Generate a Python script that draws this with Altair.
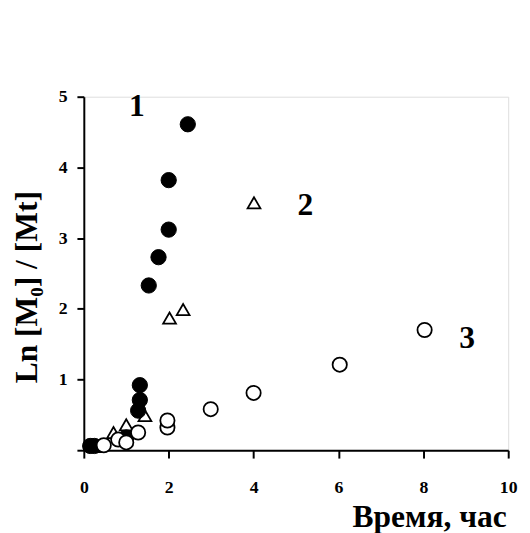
import altair as alt
import pandas as pd

# Series 1 (filled circles)
s1_x = [0.15, 0.25, 1.0, 1.28, 1.32, 1.32, 1.53, 1.76, 2.0, 2.0, 2.45]
s1_y = [0.06, 0.06, 0.18, 0.56, 0.71, 0.92, 2.33, 2.73, 3.12, 3.82, 4.61]
# Series 2 (open triangles)
s2_x = [0.3, 0.7, 1.0, 1.44, 2.02, 2.34, 4.01]
s2_y = [0.05, 0.25, 0.36, 0.49, 1.87, 1.99, 3.50]
# Series 3 (open circles)
s3_x = [0.47, 0.81, 1.0, 1.28, 1.97, 1.97, 2.99, 4.0, 6.03, 8.03]
s3_y = [0.07, 0.15, 0.11, 0.25, 0.32, 0.42, 0.58, 0.81, 1.21, 1.70]
# Curve labels
lab_text = ["1", "2", "3"]
lab_x = [1.25, 5.22, 9.03]
lab_y = [4.86, 3.47, 1.59]

x_ticks = [0, 2, 4, 6, 8, 10]
y_ticks = [0, 1, 2, 3, 4, 5]

FONT = "Liberation Serif"

d1 = pd.DataFrame({"x": s1_x, "y": s1_y})
d2 = pd.DataFrame({"x": s2_x, "y": s2_y})
d3 = pd.DataFrame({"x": s3_x, "y": s3_y})
dl = pd.DataFrame({"t": lab_text, "x": lab_x, "y": lab_y})

xs = alt.Scale(domain=[0, 10], nice=False, zero=False)
ys = alt.Scale(domain=[0, 5], nice=False, zero=False)

xaxis = alt.Axis(
    values=x_ticks, grid=False, title="Время, час", format="d",
    domainColor="black", domainWidth=2, tickColor="black", tickWidth=2, tickSize=8,
    labelFont=FONT, labelFontSize=18, labelFontWeight="bold", labelColor="black",
    labelPadding=21, labelFlush=False,
    titleFont=FONT, titleFontSize=32, titleFontWeight="bold", titleColor="black",
    titleX=429, titleY=67, titleAlign="right", titleBaseline="middle",
)
yaxis = alt.Axis(
    values=y_ticks, grid=False, title="Ln [M₀] / [Mt]", format="d",
    labelExpr="datum.value == 0 ? '' : datum.label",
    domainColor="black", domainWidth=2, tickColor="black", tickWidth=2, tickSize=7,
    labelFont=FONT, labelFontSize=18, labelFontWeight="bold", labelColor="black",
    labelPadding=10, labelFlush=False,
    titleFont=FONT, titleFontSize=32, titleFontWeight="bold", titleColor="black",
    titleX=-58, titleY=193, titleAngle=270, titleAlign="center", titleBaseline="middle",
)

base_x = alt.X("x:Q", scale=xs, axis=xaxis)
base_y = alt.Y("y:Q", scale=ys, axis=yaxis)

tri = alt.Chart(d2).mark_point(
    shape="triangle-up", filled=True, fill="white", stroke="black", strokeWidth=1.8, size=170, opacity=1
).encode(x=base_x, y=base_y)

filled = alt.Chart(d1).mark_point(
    shape="circle", filled=True, fill="black", stroke="black", strokeWidth=1, size=240, opacity=1
).encode(x="x:Q", y="y:Q")

opencirc = alt.Chart(d3).mark_point(
    shape="circle", filled=True, fill="white", stroke="black", strokeWidth=1.8, size=210, opacity=1
).encode(x="x:Q", y="y:Q")

labels = alt.Chart(dl).mark_text(
    font=FONT, fontSize=32, fontWeight="bold", color="black", align="center", baseline="middle"
).encode(x="x:Q", y="y:Q", text="t:N")

chart = alt.layer(tri, filled, opencirc, labels).properties(
    width=431, height=359,
    autosize=alt.AutoSizeParams(type="none"),
    padding={"left": 77, "top": 86, "right": 14, "bottom": 80},
).configure_view(stroke=None).configure(background="white")

chart.save("out.html", embed_options={"renderer": "svg", "actions": False})
